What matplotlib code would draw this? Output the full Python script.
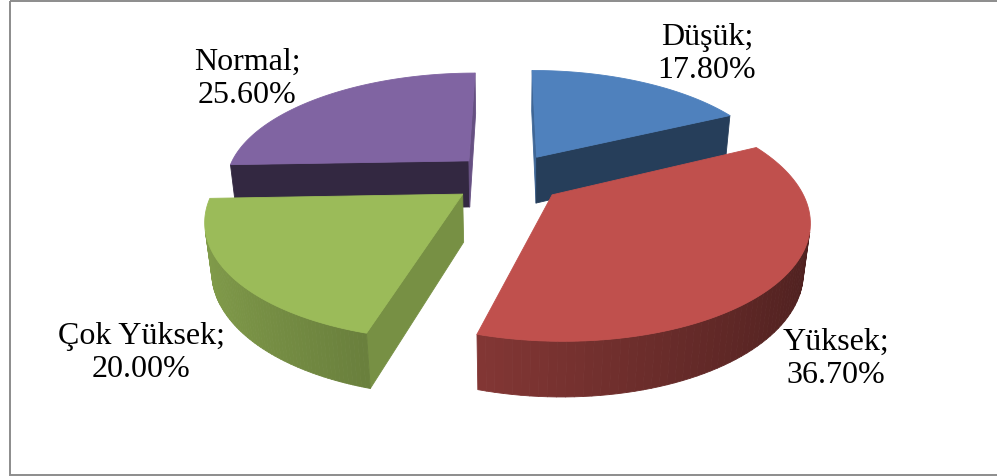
import math
import numpy as np
import matplotlib
matplotlib.use('Agg')
from matplotlib import pyplot as plt
from matplotlib.patches import Polygon, Rectangle

labels = ['Düşük', 'Yüksek', 'Çok Yüksek', 'Normal']
values = [17.8, 36.7, 20.0, 25.6]
colors = ['#4F81BD', '#C0504D', '#9BBB59', '#8064A2']

# layout of the fake 3d pie (pixels)
cx, cy = 508, 179
R = 244
H = 54
explode = 56
tilt = math.radians(27)
D = 1126
label_pos = [(707, 54), (836, 359), (141, 353), (247, 79)]

cam = np.array([0, D*math.sin(tilt), -D*math.cos(tilt)])

def proj(p):
    X, Y, Z = p
    yp = Y*math.cos(tilt) + Z*math.sin(tilt)
    dp = Z*math.cos(tilt) - Y*math.sin(tilt)
    f = D/(D + dp)
    return (cx + X*f, cy - yp*f)

def shade(c, k):
    rgb = np.array(matplotlib.colors.to_rgb(c))
    return tuple(np.clip(rgb*k, 0, 1))

def visible(pts, n):
    p = np.mean(pts, axis=0)
    return np.dot(cam - p, n) > 0

def face(ax, pts, col):
    ax.add_patch(Polygon([proj(p) for p in pts], closed=True, facecolor=col,
                         edgecolor=col, linewidth=0.6, joinstyle='round'))

fig = plt.figure(figsize=(9.97, 4.77), dpi=100)
ax = fig.add_axes([0, 0, 1, 1])
ax.set_xlim(0, 997)
ax.set_ylim(477, 0)
ax.axis('off')

total = sum(values)
slices = []
start = 0.0
for name, v, c in zip(labels, values, colors):
    end = start + 360*v/total
    slices.append((name, v, c, start, end))
    start = end

# far slices first
order = sorted(range(len(slices)), key=lambda i: -math.cos(math.radians((slices[i][3] + slices[i][4])/2)))

for i in order:
    name, v, c, a0, a1 = slices[i]
    mid = math.radians((a0 + a1)/2)
    ox, oz = explode*math.sin(mid), explode*math.cos(mid)
    th = np.radians(np.linspace(a0, a1, 80))
    top = [np.array([ox + R*math.sin(t), 0, oz + R*math.cos(t)]) for t in th]
    bot = [p + np.array([0, -H, 0]) for p in top]
    ctop = np.array([ox, 0, oz])
    cbot = np.array([ox, -H, oz])

    # radial walls
    t0, t1 = math.radians(a0), math.radians(a1)
    for pts, n in [([ctop, top[0], bot[0], cbot], np.array([-math.cos(t0), 0, math.sin(t0)])),
                   ([ctop, top[-1], bot[-1], cbot], np.array([math.cos(t1), 0, -math.sin(t1)]))]:
        if visible(pts, n):
            face(ax, pts, shade(c, 0.4 + 0.4*n[0]**2))

    # outer curved wall
    for k in range(len(th) - 1):
        tm = (th[k] + th[k+1])/2
        n = np.array([math.sin(tm), 0, math.cos(tm)])
        pts = [top[k], top[k+1], bot[k+1], bot[k]]
        if visible(pts, n):
            face(ax, pts, shade(c, 0.62 - 0.22*n[0]))

    face(ax, [ctop] + top, c)

for (name, v, c, a0, a1), (lx, ly) in zip(slices, label_pos):
    ax.text(lx, ly, f'{name};\n{v:.2f}%', ha='center', va='center',
            multialignment='center', fontsize=23, family='Liberation Serif',
            linespacing=1.22)

ax.add_patch(Rectangle((9.5, 1.5), 1000, 474, fill=False, edgecolor='#8c8c8c', linewidth=1.4))

plt.savefig('out.png', dpi=100)
